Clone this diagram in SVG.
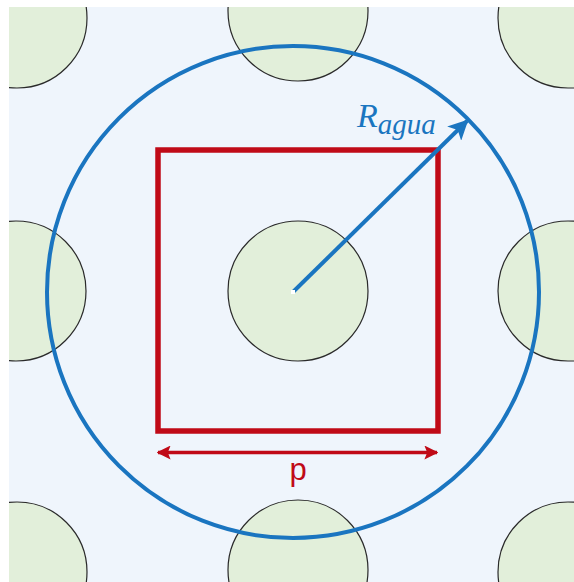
<svg xmlns="http://www.w3.org/2000/svg" width="574" height="582" viewBox="0 0 574 582">
<style>
.rod{fill:#E2EFDA;stroke:#2a2a2a;stroke-width:1.2}
.blue{stroke:#1A75C0;fill:none}
.red{stroke:#C00A17;fill:none}
</style>
<defs>
<clipPath id="bg"><rect x="9" y="7" width="565" height="575"/></clipPath>
<marker id="ab" viewBox="0 0 10 10" refX="9" refY="5" markerWidth="5" markerHeight="5" markerUnits="strokeWidth" orient="auto"><path d="M0,0 L10,5 L0,10 L2.5,5 Z" fill="#1A75C0"/></marker>
<marker id="ar" viewBox="0 0 10 10" refX="9" refY="5" markerWidth="4" markerHeight="4" markerUnits="strokeWidth" orient="auto-start-reverse"><path d="M0,0 L10,5 L0,10 L2,5 Z" fill="#C00A17"/></marker>
</defs>
<rect x="0" y="0" width="574" height="582" fill="#ffffff"/>
<rect x="9" y="7" width="565" height="575" fill="#EFF5FC"/>
<g clip-path="url(#bg)">
<g id="rod-tl"><circle class="rod" cx="17" cy="18" r="70"/></g>
<g id="rod-tc"><circle class="rod" cx="298" cy="11" r="70"/></g>
<g id="rod-tr"><circle class="rod" cx="568" cy="18" r="70"/></g>
<g id="rod-ml"><circle class="rod" cx="16" cy="291" r="70"/></g>
<g id="rod-c"><circle class="rod" cx="298" cy="291" r="70"/></g>
<g id="rod-mr"><circle class="rod" cx="568" cy="291" r="70"/></g>
<g id="rod-bl"><circle class="rod" cx="17" cy="572" r="70"/></g>
<g id="rod-bc"><circle class="rod" cx="298" cy="570" r="70"/></g>
<g id="rod-br"><circle class="rod" cx="568" cy="572" r="70"/></g>
</g>
<g id="water-circle"><circle class="blue" cx="293" cy="292" r="246" stroke-width="4"/></g>
<g id="cell"><rect class="red" x="158" y="150" width="280" height="281" stroke-width="5.5"/></g>
<g id="connectors">
<line class="blue" x1="293" y1="292" x2="467" y2="121" stroke-width="4" marker-end="url(#ab)"/>
<line class="red" x1="158" y1="452.5" x2="437" y2="452.5" stroke-width="3.5" marker-start="url(#ar)" marker-end="url(#ar)"/>
<rect x="291" y="290" width="4" height="4" fill="#ffffff"/>
</g>
<g id="labels">
<text x="357" y="127" font-family="Liberation Serif, serif" font-style="italic" font-size="34" fill="#1A75C0">R<tspan font-size="29" dy="7">agua</tspan></text>
<text x="298" y="480" font-family="Liberation Sans, Arial, sans-serif" font-size="31" fill="#C00A17" text-anchor="middle">p</text>
</g>
</svg>
